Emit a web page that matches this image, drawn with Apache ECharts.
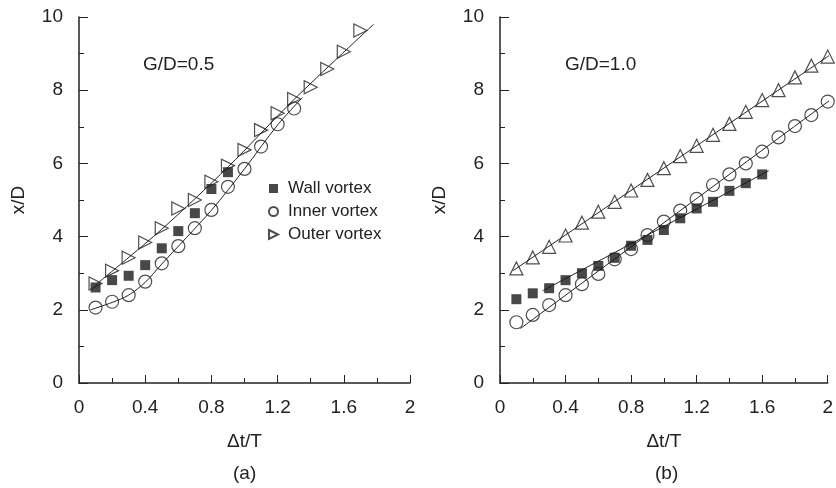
<!DOCTYPE html>
<html>
<head>
<meta charset="utf-8">
<script src="https://cdn.jsdelivr.net/npm/echarts@6/dist/echarts.min.js"></script>
<style>
  html, body { margin: 0; padding: 0; background: #fff; }
  #chart { width: 836px; height: 488px; }
</style>
</head>
<body>
<div id="chart"></div>
<script>
// time steps (Δt/T)
var tA = [0.1, 0.2, 0.3, 0.4, 0.5, 0.6, 0.7, 0.8, 0.9, 1.0, 1.1, 1.2, 1.3, 1.4, 1.5, 1.6, 1.7];
var tB = [0.1, 0.2, 0.3, 0.4, 0.5, 0.6, 0.7, 0.8, 0.9, 1.0, 1.1, 1.2, 1.3, 1.4, 1.5, 1.6, 1.7, 1.8, 1.9, 2.0];

// (a) G/D = 0.5
var aWall  = [2.61, 2.81, 2.93, 3.22, 3.68, 4.15, 4.64, 5.30, 5.76];
var aInner = [2.06, 2.22, 2.40, 2.77, 3.27, 3.74, 4.23, 4.73, 5.36, 5.85, 6.46, 7.07, 7.50];
var aOuter = [2.72, 3.07, 3.42, 3.84, 4.23, 4.77, 5.00, 5.50, 5.94, 6.37, 6.91, 7.37, 7.76, 8.08, 8.58, 9.05, 9.63];
// fitted curves
var aInnerFit = [[0.07, 2.0], [0.2, 2.2], [0.3, 2.4], [0.4, 2.75], [0.5, 3.25], [0.8, 4.72], [1.0, 5.85], [1.2, 7.05], [1.35, 7.8]];
var aOuterFit = [[0.1, 2.68], [0.5, 4.2], [0.9, 5.9], [1.3, 7.75], [1.78, 9.8]];

// (b) G/D = 1.0
var bWall  = [2.29, 2.45, 2.59, 2.81, 3.00, 3.20, 3.42, 3.75, 3.91, 4.18, 4.50, 4.77, 4.95, 5.25, 5.46, 5.70];
var bInner = [1.66, 1.86, 2.13, 2.40, 2.70, 2.98, 3.38, 3.66, 4.04, 4.41, 4.71, 5.03, 5.41, 5.70, 6.00, 6.32, 6.71, 7.02, 7.32, 7.69];
var bOuter = [3.13, 3.43, 3.72, 4.03, 4.38, 4.68, 4.95, 5.26, 5.55, 5.87, 6.20, 6.48, 6.78, 7.08, 7.41, 7.73, 8.00, 8.35, 8.67, 8.92];
var bWallFit  = [[0.26, 2.52], [1.64, 5.80]];
var bInnerFit = [[0.125, 1.49], [2.03, 7.78]];
var bOuterFit = [[0.08, 3.07], [2.02, 8.98]];

var seriesNames = ['Wall vortex', 'Inner vortex', 'Outer vortex'];

function pairs(t, v) {
  return v.map(function (y, i) { return [t[i], y]; });
}

var font = '"Liberation Sans", Arial, sans-serif';
var ink = '#222';

function xAxisOf(idx) {
  return {
    gridIndex: idx, type: 'value', min: 0, max: 2, interval: 0.4,
    name: 'Δt/T', nameLocation: 'middle', nameGap: 49,
    nameTextStyle: { fontFamily: font, fontSize: 19, color: ink },
    axisLine: { lineStyle: { color: ink, width: 1.5 } },
    axisTick: { inside: true, length: 8, lineStyle: { color: ink } },
    minorTick: { show: true, splitNumber: 2, length: 5, lineStyle: { color: ink } },
    axisLabel: { fontFamily: font, fontSize: 19, color: ink, margin: 15,
      formatter: function (v) { return +v.toFixed(1); } },
    splitLine: { show: false }
  };
}

function yAxisOf(idx) {
  return {
    gridIndex: idx, type: 'value', min: 0, max: 10, interval: 2,
    name: 'x/D', nameLocation: 'middle', nameGap: 51,
    nameTextStyle: { fontFamily: font, fontSize: 19, color: ink },
    axisLine: { lineStyle: { color: ink, width: 1.5 } },
    axisTick: { inside: true, length: 9, lineStyle: { color: ink } },
    minorTick: { show: true, splitNumber: 2, length: 5, lineStyle: { color: ink } },
    axisLabel: { fontFamily: font, fontSize: 19, color: ink, margin: 16 },
    splitLine: { show: false }
  };
}

function fitLine(idx, data) {
  return {
    type: 'line', xAxisIndex: idx, yAxisIndex: idx, data: data,
    smooth: 0.3, symbol: 'none', silent: true, z: 1,
    lineStyle: { color: ink, width: 1 }
  };
}

function wall(idx, data) {
  return {
    name: seriesNames[0], type: 'scatter', xAxisIndex: idx, yAxisIndex: idx,
    data: data, symbol: 'rect', symbolSize: 10,
    itemStyle: { color: '#1a1a1a' }, z: 3
  };
}

function inner(idx, data) {
  return {
    name: seriesNames[1], type: 'scatter', xAxisIndex: idx, yAxisIndex: idx,
    data: data, symbol: 'circle', symbolSize: 13,
    itemStyle: { color: 'transparent', borderColor: ink, borderWidth: 1.2 }, z: 3
  };
}

function outer(idx, data, rotate) {
  return {
    name: seriesNames[2], type: 'scatter', xAxisIndex: idx, yAxisIndex: idx,
    data: data, symbol: 'triangle', symbolSize: 13, symbolRotate: rotate,
    itemStyle: { color: 'transparent', borderColor: ink, borderWidth: 1.2 }, z: 3
  };
}

var chart = echarts.init(document.getElementById('chart'), null, { renderer: 'canvas' });

chart.setOption({
  backgroundColor: '#fff',
  animation: false,
  grid: [
    { left: 79, top: 17, width: 331, height: 366 },
    { left: 500, top: 17, width: 332, height: 366 }
  ],
  xAxis: [xAxisOf(0), xAxisOf(1)],
  yAxis: [yAxisOf(0), yAxisOf(1)],
  legend: {
    data: [
      { name: seriesNames[0], icon: 'rect' },
      { name: seriesNames[1], icon: 'circle' },
      { name: seriesNames[2], icon: 'path://M0,0L10,5L0,10Z' }
    ],
    orient: 'vertical', left: 268, top: 180, padding: 0,
    itemWidth: 9, itemHeight: 9, itemGap: 6,
    textStyle: { fontFamily: font, fontSize: 17, lineHeight: 17, color: ink, padding: [0, 0, 0, 5] }
  },
  graphic: [
    { type: 'text', left: 143, top: 55, style: { text: 'G/D=0.5', fontFamily: font, fontSize: 19, fill: ink } },
    { type: 'text', left: 565, top: 55, style: { text: 'G/D=1.0', fontFamily: font, fontSize: 19, fill: ink } },
    { type: 'text', left: 233, top: 464, style: { text: '(a)', fontFamily: font, fontSize: 19, fill: ink } },
    { type: 'text', left: 655, top: 464, style: { text: '(b)', fontFamily: font, fontSize: 19, fill: ink } }
  ],
  series: [
    fitLine(0, aInnerFit),
    fitLine(0, aOuterFit),
    wall(0, pairs(tA, aWall)),
    inner(0, pairs(tA, aInner)),
    outer(0, pairs(tA, aOuter), -90),
    fitLine(1, bWallFit),
    fitLine(1, bInnerFit),
    fitLine(1, bOuterFit),
    wall(1, pairs(tB, bWall)),
    inner(1, pairs(tB, bInner)),
    outer(1, pairs(tB, bOuter), 0)
  ]
});
</script>
</body>
</html>
